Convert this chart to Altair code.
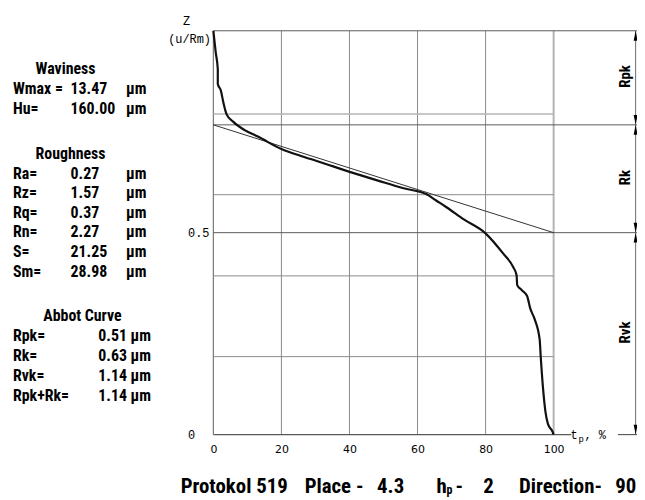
import altair as alt
import pandas as pd

# ---------------- data ----------------
tp = [0, 0.7, 1.3, 1.3, 2.2, 2.9, 3.9, 5.8, 9.2, 13.1,
      20, 25.7, 30.6, 40.3, 49.1, 55.9, 62.7, 65.6, 68.5, 73.6,
      79.9, 85.2, 88.1, 89.1, 89.3, 90.6, 92.2, 93.1, 94.5, 95.9,
      96.2, 96.9, 97.6, 98.3, 99.7, 100]
z = [1.0, 0.946, 0.905, 0.868, 0.852, 0.824, 0.793, 0.775, 0.754, 0.738,
     0.707, 0.690, 0.677, 0.650, 0.627, 0.610, 0.595, 0.579, 0.563, 0.533,
     0.499, 0.448, 0.415, 0.395, 0.370, 0.358, 0.343, 0.313, 0.284, 0.235,
     0.194, 0.113, 0.056, 0.027, 0.007, 0.0]

x_ticks = [0, 20, 40, 60, 80, 100]
y_ticks = [0, 0.5]
grid_x = [20, 40, 60, 80]
grid_z = [0.193, 0.393, 0.594]
grid_z_light = [0.794]
rk_top = 0.767
rk_bottom = 0.5

wav_names = ["Wmax =", "Hu="]
wav_values = ["13.47", "160.00"]
rough_names = ["Ra=", "Rz=", "Rq=", "Rn=", "S=", "Sm="]
rough_values = ["0.27", "1.57", "0.37", "2.27", "21.25", "28.98"]
abbot_names = ["Rpk=", "Rk=", "Rvk=", "Rpk+Rk="]
abbot_values = ["0.51 µm", "0.63 µm", "1.14 µm", "1.14 µm"]
unit = "µm"
band_labels = ["Rpk", "Rk", "Rvk"]
title_parts = ["Protokol 519", "Place -", "4.3", "h", "-", "2", "Direction-", "90"]

# ---------------- styling ----------------
NARROW = "Liberation Sans Narrow, Arial Narrow, Roboto Condensed, Roboto, sans-serif"
MONO = "Liberation Mono, DejaVu Sans Mono, monospace"
X_MAX = 124.5
ARROW_X = 124.1
OX, OY = 215, 29  # page position of plot origin

xs = alt.Scale(domain=[0, X_MAX], nice=False, zero=False)
ys = alt.Scale(domain=[0, 1], nice=False, zero=False)
x_axis = alt.Axis(values=x_ticks, title=None, grid=False, ticks=False, domain=False,
                  labelFont="DejaVu Sans", labelFontSize=11, labelPadding=9,
                  labelColor="black", labelFlush=False)
y_axis = alt.Axis(values=y_ticks, title=None, grid=False, ticks=False, domain=False,
                  labelFont=MONO, labelFontSize=12, labelPadding=26, labelAlign="left",
                  labelColor="black", format="~g", labelFlush=False)


def X(f):
    return alt.X(f, type="quantitative", scale=xs, axis=x_axis)


def Y(f):
    return alt.Y(f, type="quantitative", scale=ys, axis=y_axis)


def vrules(xvals, y1, y2, color, width):
    df = pd.DataFrame({"x": xvals, "y1": [y1] * len(xvals), "y2": [y2] * len(xvals)})
    return alt.Chart(df).mark_rule(color=color, strokeWidth=width).encode(
        x=X("x"), y=Y("y1"), y2=alt.Y2("y2"))


def hrules(zvals, x1, x2, color, width):
    df = pd.DataFrame({"z": zvals, "x1": [x1] * len(zvals), "x2": [x2] * len(zvals)})
    return alt.Chart(df).mark_rule(color=color, strokeWidth=width).encode(
        y=Y("z"), x=X("x1"), x2=alt.X2("x2"))


layers = []
layers.append(vrules(grid_x, 0, 1, "#8a8a8a", 1))
layers.append(vrules([0], 0, 1, "#777777", 1.2))
layers.append(vrules([100], 0, 1, "#b4b4b4", 2))
layers.append(hrules(grid_z, 0, 100, "#8a8a8a", 1))
layers.append(hrules(grid_z_light, 0, 100, "#b4b4b4", 1.5))
layers.append(hrules([1.0, rk_top, rk_bottom], 0, X_MAX, "#5a5a5a", 1))
layers.append(hrules([0], 0, 105.2, "#5a5a5a", 1.2))
layers.append(hrules([0], 118.9, X_MAX, "#5a5a5a", 1.2))
layers.append(vrules([ARROW_X], 0, 1, "#6a6a6a", 1))

# secant line of the core roughness
secant = pd.DataFrame({"tp": [0, 100], "z": [rk_top, rk_bottom]})
layers.append(alt.Chart(secant).mark_line(color="#333333", strokeWidth=1).encode(
    x=X("tp"), y=Y("z")))

# Abbott curve
curve = pd.DataFrame({"tp": tp, "z": z, "i": list(range(len(tp)))})
layers.append(alt.Chart(curve).mark_line(color="#111111", strokeWidth=2.2,
                                         interpolate="monotone").encode(
    x=X("tp"), y=Y("z"), order=alt.Order("i:Q")))

# arrows on the right
UP = "M -0.4 2 L 0.4 2 L 0 0 Z"
DOWN = "M -0.4 -2 L 0.4 -2 L 0 0 Z"
up_df = pd.DataFrame({"x": [ARROW_X] * 3, "z": [1.0, rk_top, rk_bottom]})
down_df = pd.DataFrame({"x": [ARROW_X] * 3, "z": [rk_top, rk_bottom, 0.0]})
for df, shp in ((up_df, UP), (down_df, DOWN)):
    layers.append(alt.Chart(df).mark_point(shape=shp, filled=True, size=100, opacity=1,
                                           color="black", strokeWidth=0).encode(
        x=X("x"), y=Y("z")))


# ---------------- text ----------------
def text_layer(rows, font, size, weight="normal", align="left", baseline="alphabetic", angle=0):
    df = pd.DataFrame(rows, columns=["t", "px", "py"])
    df["px"] = df["px"] - OX
    df["py"] = df["py"] - OY
    return alt.Chart(df).mark_text(font=font, fontSize=size, fontWeight=weight, align=align,
                                   baseline=baseline, angle=angle, color="black").encode(
        x=alt.X("px:Q", scale=None, axis=None),
        y=alt.Y("py:Q", scale=None, axis=None),
        text="t:N")


heads = [("Waviness", 66, 73), ("Roughness", 71, 158), ("Abbot Curve", 83, 322)]
left_rows = []
wav_base = [93, 113]
for n, v, b in zip(wav_names, wav_values, wav_base):
    left_rows += [(n, 13, b), (v, 71, b), (unit, 127, b)]
rough_base = [178, 198, 217.5, 237, 257, 277]
for n, v, b in zip(rough_names, rough_values, rough_base):
    left_rows += [(n, 13, b), (v, 71, b), (unit, 127, b)]
abbot_base = [342, 362, 382, 402]
for n, v, b in zip(abbot_names, abbot_values, abbot_base):
    left_rows += [(n, 13, b), (v, 99, b)]

layers.append(text_layer(heads, NARROW, 16, "bold", "center"))
layers.append(text_layer(left_rows, NARROW, 16, "bold", "left"))

# band labels, rotated
band_rows = [(band_labels[0], 630, 75), (band_labels[1], 630, 177), (band_labels[2], 630, 333)]
layers.append(text_layer(band_rows, NARROW, 15, "bold", "center", "middle", 270))

# bottom title
title_x = [182, 307, 380, 440, 459, 487, 523, 620]
title_rows = [(t, x, 495) for t, x in zip(title_parts, title_x)]
layers.append(text_layer(title_rows, NARROW, 21, "bold", "left"))
layers.append(text_layer([("p", 450, 496)], NARROW, 12, "bold", "left"))

# axis captions
layers.append(text_layer([("Z", 188, 23), ("(u/Rm)", 191, 41)], MONO, 12, "normal", "center"))
layers.append(text_layer([("t", 575, 440), (", %", 589, 440)], MONO, 12, "normal", "left"))
layers.append(text_layer([("p", 583, 443)], MONO, 9, "normal", "left"))

chart = alt.layer(*layers).properties(
    width=427, height=407,
    padding={"left": 207, "top": 21, "right": 0, "bottom": 64},
    autosize="none",
).configure_view(stroke=None)

chart.save("out.html", embed_options={"renderer": "svg", "actions": False})
